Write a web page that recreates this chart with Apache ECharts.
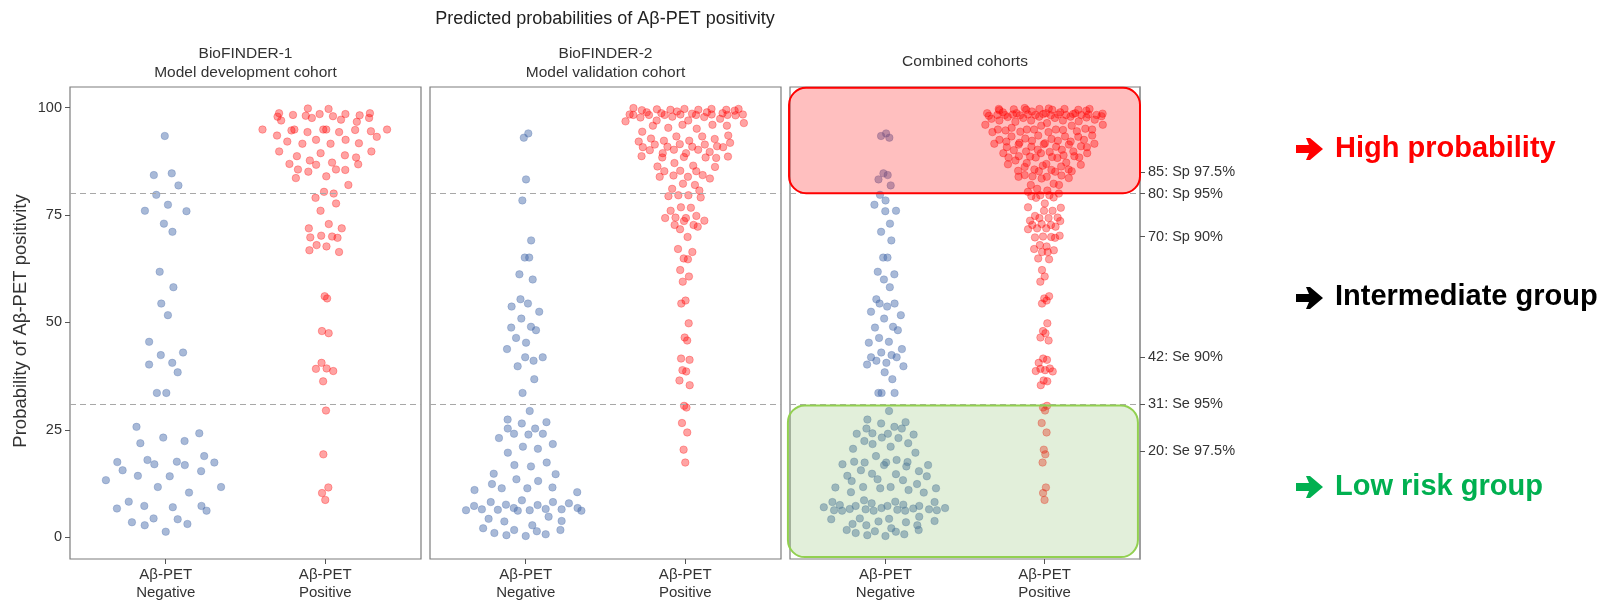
<!DOCTYPE html>
<html>
<head>
<meta charset="utf-8">
<script src="https://cdn.jsdelivr.net/npm/echarts@6/dist/echarts.min.js"></script>
<style>
  html, body { margin: 0; padding: 0; background: #fff; }
  #chart { width: 1613px; height: 602px; }
</style>
</head>
<body>
<div id="chart"></div>
<script>
// ---- data ----
const groupLabels = ['Aβ-PET\nNegative', 'Aβ-PET\nPositive'];
const panelTitles = [
  'BioFINDER-1\nModel development cohort',
  'BioFINDER-2\nModel validation cohort',
  'Combined cohorts'
];
const yTickValues = [0, 25, 50, 75, 100];
const cutoffLines = [80, 31];
const thresholdValues = [85, 80, 70, 42, 31, 20];
const thresholdLabels = ['85: Sp 97.5%', '80: Sp 95%', '70: Sp 90%', '42: Se 90%', '31: Se 95%', '20: Se 97.5%'];

const bf1Negative = [93.4, 84.3, 84.7, 81.9, 79.7, 77.4, 76.0, 75.9, 73.0, 71.1, 61.8, 58.2,
  54.4, 51.7, 45.5, 42.4, 43.0, 40.2, 40.6, 38.4, 33.6, 33.6, 25.7, 24.2, 21.9, 23.2, 22.4,
  17.5, 18.0, 17.0, 17.6, 16.8, 18.9, 17.4, 15.6, 15.4, 14.3, 14.2, 13.3, 11.7, 11.7, 10.4,
  8.3, 6.7, 7.3, 7.0, 7.3, 6.2, 3.5, 2.8, 4.4, 4.2, 3.1, 1.3];

const bf1Positive = [99.8, 99.7, 98.7, 98.7, 98.5, 98.5, 98.3, 98.1, 97.9, 98.0, 98.2, 97.6,
  97.6, 97.2, 97.0, 96.7, 94.9, 94.7, 94.9, 94.9, 94.9, 94.8, 94.9, 94.3, 94.3, 94.5, 93.5,
  93.2, 92.5, 92.1, 92.5, 91.6, 91.6, 91.7, 89.8, 89.4, 89.8, 88.7, 88.9, 88.4, 87.7, 86.9,
  86.7, 87.2, 86.8, 85.6, 85.1, 85.6, 85.5, 83.6, 84.0, 82.0, 80.4, 80.0, 79.0, 77.7, 76.0,
  72.9, 71.9, 71.9, 69.8, 70.2, 70.0, 69.7, 68.0, 67.7, 66.8, 66.4, 56.1, 55.6, 48.0, 47.5,
  40.6, 39.2, 39.3, 38.7, 36.3, 29.5, 19.3, 11.6, 10.3, 8.7];

const bf2Negative = [94.0, 93.0, 83.3, 78.4, 69.1, 65.1, 65.1, 61.2, 60.0, 55.4, 54.4, 53.7,
  52.5, 50.9, 48.8, 49.0, 48.2, 46.4, 45.3, 43.8, 41.9, 41.1, 41.9, 39.8, 36.8, 33.6, 29.4,
  27.4, 26.5, 26.8, 25.3, 25.3, 24.1, 23.9, 24.1, 23.1, 21.1, 20.6, 21.7, 19.7, 16.8, 16.5,
  17.4, 14.8, 14.7, 13.5, 13.1, 12.4, 11.4, 11.4, 11.6, 11.0, 10.5, 8.6, 8.2, 8.2, 7.9, 7.3,
  7.6, 7.5, 6.2, 6.5, 6.3, 6.8, 6.2, 6.4, 6.6, 6.5, 6.8, 6.3, 4.3, 4.8, 3.7, 3.8, 2.1, 2.8,
  1.7, 1.0, 1.7, 1.4, 0.5, 0.3, 0.7];

const bf2Positive = [99.7, 99.3, 98.7, 99.5, 98.4, 99.5, 98.3, 98.9, 98.4, 99.9, 99.7, 98.4,
  98.2, 99.1, 97.8, 98.9, 99.6, 98.3, 97.4, 98.7, 99.5, 98.3, 99.4, 99.7, 97.9, 98.4, 98.3,
  98.6, 97.7, 98.3, 96.8, 97.0, 96.4, 97.0, 96.0, 95.8, 95.3, 95.1, 96.0, 95.8, 94.4, 93.3,
  93.3, 93.5, 92.1, 92.8, 92.3, 92.3, 92.7, 91.8, 90.9, 91.4, 90.8, 91.5, 90.9, 91.4, 91.0,
  90.8, 89.7, 89.4, 90.2, 90.1, 90.2, 89.4, 88.7, 88.4, 88.5, 88.4, 88.3, 88.6, 87.1, 86.3,
  86.5, 86.2, 85.2, 85.2, 85.3, 83.9, 84.2, 83.9, 84.3, 83.5, 82.3, 82.0, 81.1, 80.7, 79.4,
  79.6, 79.6, 79.1, 76.0, 76.8, 76.7, 74.3, 74.3, 74.4, 74.8, 73.6, 72.7, 72.7, 72.3, 73.7,
  71.7, 69.9, 67.1, 66.4, 64.9, 64.7, 62.2, 60.7, 59.5, 55.1, 54.4, 49.8, 46.5, 45.8, 41.6,
  41.3, 38.9, 38.6, 36.5, 35.4, 30.6, 30.2, 26.6, 24.4, 20.4, 17.4];

// ---- quasirandom (van der Corput) horizontal spread, scaled by a kernel density ----
function vanDerCorput(n) {
  const out = [];
  for (let i = 1; i <= n; i++) {
    let v = 0, denom = 1, k = i;
    while (k > 0) { denom *= 2; v += (k % 2) / denom; k = Math.floor(k / 2); }
    out.push(v);
  }
  return out;
}
function quantile7(sorted, p) {
  const h = (sorted.length - 1) * p, lo = Math.floor(h);
  if (lo + 1 >= sorted.length) return sorted[lo];
  return sorted[lo] + (h - lo) * (sorted[lo + 1] - sorted[lo]);
}
function quasiOffsets(ys, width, adjust) {
  const n = ys.length;
  const sorted = ys.slice().sort((a, b) => a - b);
  const mean = ys.reduce((s, v) => s + v, 0) / n;
  const sd = Math.sqrt(ys.reduce((s, v) => s + (v - mean) * (v - mean), 0) / (n - 1));
  const iqr = quantile7(sorted, 0.75) - quantile7(sorted, 0.25);
  const bw = 0.9 * Math.min(sd, iqr / 1.34) * Math.pow(n, -0.2) * adjust;
  const from = sorted[0] - 3 * bw, to = sorted[n - 1] + 3 * bw, m = 1024;
  const gy = [];
  for (let i = 0; i < m; i++) {
    const x = from + (to - from) * i / (m - 1);
    let d = 0;
    for (const v of ys) { const z = (x - v) / bw; d += Math.exp(-0.5 * z * z); }
    gy.push(d);
  }
  const maxD = Math.max(...gy);
  const densAt = (y) => {
    const t = (y - from) / (to - from) * (m - 1);
    const i = Math.min(m - 2, Math.max(0, Math.floor(t)));
    const f = t - i;
    return (gy[i] * (1 - f) + gy[i + 1] * f) / maxD;
  };
  const order = ys.map((v, i) => i).sort((a, b) => ys[a] - ys[b] || a - b);
  const rank = new Array(n);
  order.forEach((idx, r) => { rank[idx] = r; });
  const vdc = vanDerCorput(n);
  return ys.map((y, i) => (vdc[rank[i]] - 0.5) * 2 * densAt(y) * width);
}
function swarm(ys, center) {
  const off = quasiOffsets(ys, 0.4, 0.5);
  return ys.map((y, i) => [center + off[i], y]);
}

const panels = [
  { neg: bf1Negative, pos: bf1Positive },
  { neg: bf2Negative, pos: bf2Positive },
  { neg: bf1Negative.concat(bf2Negative), pos: bf1Positive.concat(bf2Positive) }
];

// ---- layout ----
const FONT = 'Liberation Sans, Arial, Helvetica, sans-serif';
const gridLefts = [70, 430, 790];
const gridWidths = [351, 351, 350];
const GRID_TOP = 87, GRID_H = 473;
const Y_MIN = -5.05, Y_MAX = 104.8;

const grids = gridLefts.map((l, i) => ({
  left: l, top: GRID_TOP, width: gridWidths[i], height: GRID_H,
  show: true, borderColor: '#7d7d7d', borderWidth: 1.2, backgroundColor: 'transparent'
}));

const xAxes = gridLefts.map((l, i) => ({
  type: 'value', gridIndex: i, min: 0.4, max: 2.6, position: 'bottom',
  splitLine: { show: false },
  axisLine: { show: false, onZero: false },
  axisTick: { show: true, length: 5, customValues: [1, 2], lineStyle: { color: '#555' } },
  axisLabel: {
    customValues: [1, 2], margin: 7, color: '#333', fontSize: 15, lineHeight: 18,
    fontFamily: FONT, formatter: v => groupLabels[Math.round(v) - 1]
  }
}));

const yAxes = gridLefts.map((l, i) => ({
  type: 'value', gridIndex: i, min: Y_MIN, max: Y_MAX, position: 'left',
  splitLine: { show: false },
  axisLine: { show: false, onZero: false },
  axisTick: { show: i === 0, length: 5, customValues: yTickValues, lineStyle: { color: '#555' } },
  axisLabel: {
    show: i === 0, customValues: yTickValues, margin: 8, color: '#333', fontSize: 14.5,
    fontFamily: FONT
  }
}));
// threshold axis on the right of the combined panel
yAxes.push({
  type: 'value', gridIndex: 2, position: 'right', min: Y_MIN, max: Y_MAX,
  splitLine: { show: false },
  axisLine: { show: true, onZero: false, lineStyle: { color: '#999', width: 1.5 } },
  axisTick: { show: true, length: 5, customValues: thresholdValues, lineStyle: { color: '#555' } },
  axisLabel: {
    customValues: thresholdValues, margin: 8, color: '#333', fontSize: 14.5, fontFamily: FONT,
    formatter: v => thresholdLabels[thresholdValues.indexOf(Math.round(v))]
  }
});

const NEG_COLOR = 'rgba(68,104,168,0.58)';
const POS_COLOR = 'rgba(255,0,0,0.45)';

const series = [];
panels.forEach((p, i) => {
  series.push({
    type: 'scatter', xAxisIndex: i, yAxisIndex: i, data: [], z: 1, silent: true,
    markLine: {
      silent: true, symbol: 'none', animation: false,
      label: { show: false },
      lineStyle: { type: [6, 4], color: '#a8a8a8', width: 1.2 },
      data: cutoffLines.map(v => ({ yAxis: v }))
    }
  });
  series.push({
    type: 'scatter', xAxisIndex: i, yAxisIndex: i, z: 3, symbolSize: 7.5,
    data: swarm(p.neg, 1),
    itemStyle: { color: NEG_COLOR, borderColor: 'rgba(68,104,168,0.35)', borderWidth: 1 }
  });
  series.push({
    type: 'scatter', xAxisIndex: i, yAxisIndex: i, z: 3, symbolSize: 7.5,
    data: swarm(p.pos, 2),
    itemStyle: { color: POS_COLOR, borderColor: 'rgba(255,0,0,0.35)', borderWidth: 1 }
  });
});

const chart = echarts.init(document.getElementById('chart'), null, { renderer: 'canvas' });
chart.setOption({
  animation: false,
  backgroundColor: '#fff',
  textStyle: { fontFamily: FONT },
  grid: grids, xAxis: xAxes, yAxis: yAxes, series: series
});

// ---- annotations ----
function px(gridIndex, x, y) { return chart.convertToPixel({ gridIndex: gridIndex }, [x, y]); }
function roundBox(gridIndex, x0, y0, x1, y1, fill, stroke) {
  const a = px(gridIndex, x0, y0), b = px(gridIndex, x1, y1);
  return {
    type: 'rect', z: 20, silent: true,
    shape: { x: a[0], y: a[1], width: b[0] - a[0], height: b[1] - a[1], r: 17 },
    style: { fill: fill, stroke: stroke, lineWidth: 2 }
  };
}
function arrow(x, y, color) {
  return {
    type: 'polygon', z: 20, silent: true, x: x, y: y,
    shape: { points: [[0, -4], [13, -4], [10, -11], [14, -11], [27, 0], [14, 11], [10, 11], [13, 4], [0, 4]] },
    style: { fill: color }
  };
}
function label(x, y, text, size, color, align, weight, rotation, lh) {
  return {
    type: 'text', z: 20, silent: true, x: x, y: y, rotation: rotation || 0,
    style: {
      text: text, fill: color, font: (weight || 'normal') + ' ' + size + 'px ' + FONT,
      align: align || 'center', verticalAlign: 'middle', lineHeight: lh || size + 2
    }
  };
}

const graphics = [
  label(605, 19, 'Predicted probabilities of Aβ-PET positivity', 18, '#222'),
  label(245.5, 63, panelTitles[0], 15.5, '#333', 'center', 'normal', 0, 18.5),
  label(605.5, 63, panelTitles[1], 15.5, '#333', 'center', 'normal', 0, 18.5),
  label(965, 62, panelTitles[2], 15.5, '#333'),
  label(21, 321, 'Probability of Aβ-PET positivity', 18.5, '#333', 'center', 'normal', Math.PI / 2),
  roundBox(2, 0.394, 104.6, 2.6, 80.1, 'rgba(255,0,0,0.25)', '#ff0000'),
  roundBox(2, 0.387, 30.7, 2.587, -4.6, 'rgba(112,173,71,0.2)', '#92d050'),
  arrow(1296, 149, '#ff0000'),
  arrow(1296, 298, '#000000'),
  arrow(1296, 487, '#00b050'),
  label(1335, 149, 'High probability', 29, '#ff0000', 'left', 'bold'),
  label(1335, 297, 'Intermediate group', 29, '#000000', 'left', 'bold'),
  label(1335, 487, 'Low risk group', 29, '#00b050', 'left', 'bold')
];
chart.setOption({ graphic: graphics });
</script>
</body>
</html>
